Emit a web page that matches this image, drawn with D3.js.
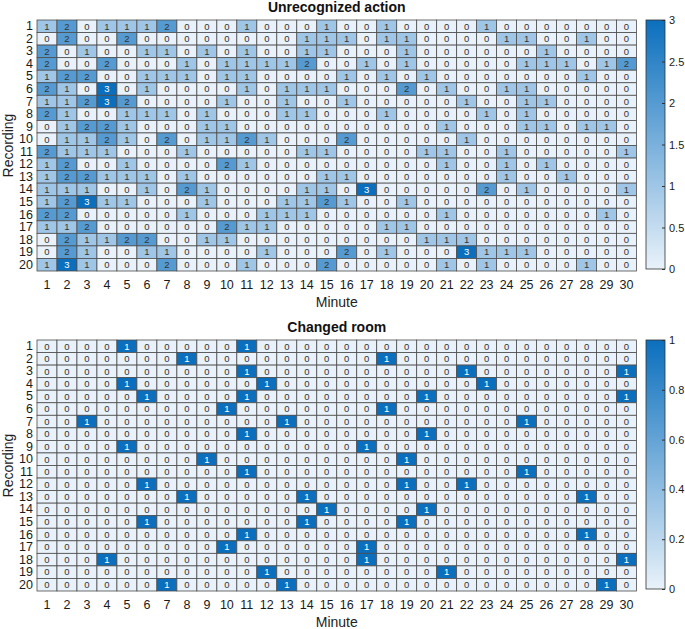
<!DOCTYPE html>
<html>
<head>
<meta charset="utf-8">
<script src="https://cdn.jsdelivr.net/npm/d3@7/dist/d3.min.js"></script>
<style>
body{margin:0;background:#fff;}
svg{font-family:"Liberation Sans",Arial,sans-serif;}
</style>
</head>
<body>
<svg id="chart" width="685" height="629"></svg>
<script>
const minutes = d3.range(1, 31);
const recordings = d3.range(1, 21);

const unrecognized = [
[1,2,0,1,1,1,2,0,0,0,1,0,0,0,1,0,0,1,0,0,0,0,1,0,0,0,0,0,0,0],
[0,2,0,0,2,0,0,0,0,0,0,0,0,1,1,1,0,1,1,0,0,0,0,1,1,0,0,1,0,0],
[2,0,1,0,0,1,1,0,1,0,1,0,0,1,1,0,0,0,1,0,0,0,0,0,0,1,0,0,0,0],
[2,0,0,2,0,0,0,1,0,1,1,1,1,2,0,0,1,0,1,0,0,0,0,0,1,1,1,0,1,2],
[1,2,2,0,0,1,1,1,0,1,1,0,0,0,0,1,0,1,0,1,0,0,0,0,0,0,0,1,0,0],
[2,1,0,3,0,1,0,0,0,0,1,0,1,1,1,0,0,0,2,0,1,0,0,1,1,0,0,0,0,0],
[1,1,2,3,2,0,0,0,0,1,0,0,1,0,0,1,0,0,0,0,0,1,0,0,1,1,0,0,0,0],
[2,1,0,0,1,1,1,0,1,0,0,0,1,1,0,0,0,1,0,0,0,0,1,0,1,0,0,0,0,0],
[0,1,2,2,1,0,0,0,1,1,0,0,0,0,0,0,0,0,0,0,1,0,0,0,1,1,0,1,1,0],
[0,1,1,2,1,0,2,0,1,1,2,1,0,0,0,2,0,0,0,0,0,1,0,0,0,0,0,0,0,0],
[2,1,1,1,0,0,0,1,0,0,0,0,0,1,1,0,0,0,0,1,1,0,0,1,0,0,0,0,0,1],
[1,2,0,0,1,0,0,0,0,2,1,0,0,0,0,0,0,0,0,0,1,0,0,1,0,1,0,0,0,0],
[1,2,2,1,1,1,0,1,0,0,0,0,0,0,1,1,0,0,0,0,0,0,0,1,0,0,1,0,0,0],
[1,1,1,0,0,1,0,2,1,0,0,0,0,1,1,0,3,0,0,0,0,0,2,0,1,0,0,0,0,1],
[1,2,3,1,1,0,0,0,1,0,0,0,1,1,2,1,0,0,1,0,0,0,0,0,0,0,0,0,0,0],
[2,2,0,0,0,0,0,1,0,0,0,1,1,1,0,0,0,0,0,0,1,0,0,0,0,0,0,0,1,0],
[1,1,2,0,0,0,0,0,0,2,1,1,0,0,0,0,0,1,1,0,0,0,0,0,0,0,0,0,0,0],
[0,2,1,1,2,2,0,0,1,1,0,0,0,0,0,0,0,0,0,1,1,1,0,0,0,0,0,0,0,0],
[0,2,1,0,0,1,1,0,0,0,0,1,0,0,0,2,0,1,0,0,0,3,1,1,1,0,0,0,0,0],
[1,3,1,0,0,0,2,0,0,0,1,0,0,0,2,0,0,0,0,0,1,0,1,0,0,0,0,1,0,0]
];

const changedRoom = [
[0,0,0,0,1,0,0,0,0,0,1,0,0,0,0,0,0,0,0,0,0,0,0,0,0,0,0,0,0,0],
[0,0,0,0,0,0,0,1,0,0,0,0,0,0,0,0,0,1,0,0,0,0,0,0,0,0,0,0,0,0],
[0,0,0,0,0,0,0,0,0,0,1,0,0,0,0,0,0,0,0,0,0,1,0,0,0,0,0,0,0,1],
[0,0,0,0,1,0,0,0,0,0,0,1,0,0,0,0,0,0,0,0,0,0,1,0,0,0,0,0,0,0],
[0,0,0,0,0,1,0,0,0,0,1,0,0,0,0,0,0,0,0,1,0,0,0,0,0,0,0,0,0,1],
[0,0,0,0,0,0,0,0,0,1,0,0,0,0,0,0,0,1,0,0,0,0,0,0,0,0,0,0,0,0],
[0,0,1,0,0,0,0,0,0,0,0,0,1,0,0,0,0,0,0,0,0,0,0,0,1,0,0,0,0,0],
[0,0,0,0,0,0,0,0,0,0,1,0,0,0,0,0,0,0,0,1,0,0,0,0,0,0,0,0,0,0],
[0,0,0,0,1,0,0,0,0,0,0,0,0,0,0,0,1,0,0,0,0,0,0,0,0,0,0,0,0,0],
[0,0,0,0,0,0,0,0,1,0,0,0,0,0,0,0,0,0,1,0,0,0,0,0,0,0,0,0,0,0],
[0,0,0,0,0,0,0,0,0,0,1,0,0,0,0,0,0,0,0,0,0,0,0,0,1,0,0,0,0,0],
[0,0,0,0,0,1,0,0,0,0,0,0,0,0,0,0,0,0,1,0,0,1,0,0,0,0,0,0,0,0],
[0,0,0,0,0,0,0,1,0,0,0,0,0,1,0,0,0,0,0,0,0,0,0,0,0,0,0,1,0,0],
[0,0,0,0,0,0,0,0,0,0,0,0,0,0,1,0,0,0,0,1,0,0,0,0,0,0,0,0,0,0],
[0,0,0,0,0,1,0,0,0,0,0,0,0,1,0,0,0,0,1,0,0,0,0,0,0,0,0,0,0,0],
[0,0,0,0,0,0,0,0,0,0,1,0,0,0,0,0,0,0,0,0,0,0,0,0,0,0,0,1,0,0],
[0,0,0,0,0,0,0,0,0,1,0,0,0,0,0,0,1,0,0,0,0,0,0,0,0,0,0,0,0,0],
[0,0,0,1,0,0,0,0,0,0,0,0,0,0,0,0,1,0,0,0,0,0,0,0,0,0,0,0,0,1],
[0,0,0,0,0,0,0,0,0,0,0,1,0,0,0,0,0,0,0,0,1,0,0,0,0,0,0,0,0,0],
[0,0,0,0,0,0,1,0,0,0,0,0,1,0,0,0,0,0,0,0,0,0,0,0,0,0,0,0,1,0]
];

const panels = [
  {title: "Unrecognized action", data: unrecognized, max: 3, ticks: [0,0.5,1,1.5,2,2.5,3], top: 20, bottom: 271},
  {title: "Changed room", data: changedRoom, max: 1, ticks: [0,0.2,0.4,0.6,0.8,1], top: 340, bottom: 591}
];

const svg = d3.select("#chart");
const left = 37, right = 636.5;
const lowC = "#e9f2fa", highC = "#0b6fbd";
const defs = svg.append("defs");
const grad = defs.append("linearGradient").attr("id","cbgrad").attr("x1",0).attr("y1",1).attr("x2",0).attr("y2",0);
grad.append("stop").attr("offset","0%").attr("stop-color",lowC);
grad.append("stop").attr("offset","100%").attr("stop-color",highC);

panels.forEach((p, pi) => {
  const g = svg.append("g");
  const x = d3.scaleBand().domain(minutes).range([left, right]).padding(0);
  const y = d3.scaleBand().domain(recordings).range([p.top, p.bottom]).padding(0);
  const color = d3.scaleLinear().domain([0, p.max]).range([lowC, highC]).interpolate(d3.interpolateRgb);

  const cells = [];
  p.data.forEach((row, ri) => row.forEach((v, ci) => cells.push({r: recordings[ri], c: minutes[ci], v})));

  g.selectAll("rect.cell").data(cells).join("rect")
    .attr("class","cell")
    .attr("x", d => x(d.c)).attr("y", d => y(d.r))
    .attr("width", x.bandwidth()).attr("height", y.bandwidth())
    .attr("fill", d => color(d.v))
    .attr("stroke", "#4d4d4d").attr("stroke-width", 0.8);

  g.selectAll("text.val").data(cells).join("text")
    .attr("class","val")
    .attr("x", d => x(d.c) + x.bandwidth()/2)
    .attr("y", d => y(d.r) + y.bandwidth()/2 + 3.3)
    .attr("text-anchor","middle")
    .attr("font-size", 9.5)
    .attr("fill", d => d.v / p.max > 0.75 ? "#ffffff" : "#333333")
    .text(d => d.v);

  // axes
  const xa = g.append("g").attr("transform", `translate(0,${p.bottom + 4})`)
    .call(d3.axisBottom(x).tickSize(0).tickPadding(5));
  xa.select(".domain").remove();
  xa.selectAll("text").attr("font-size", 12.5).attr("fill","#1a1a1a").attr("font-family","Liberation Sans, Arial, sans-serif");

  const ya = g.append("g").attr("transform", `translate(${left - 3},0)`)
    .call(d3.axisLeft(y).tickSize(0).tickPadding(1));
  ya.select(".domain").remove();
  ya.selectAll("text").attr("font-size", 12.5).attr("fill","#1a1a1a").attr("font-family","Liberation Sans, Arial, sans-serif");

  g.append("text").attr("x", (left+right)/2).attr("y", p.top - 8)
    .attr("text-anchor","middle").attr("font-weight","bold").attr("font-size", 14).attr("fill","#111")
    .text(p.title);
  g.append("text").attr("x", (left+right)/2).attr("y", p.bottom + 36)
    .attr("text-anchor","middle").attr("font-size", 14).attr("fill","#222")
    .text("Minute");
  g.append("text").attr("transform", `translate(13,${(p.top+p.bottom)/2}) rotate(-90)`)
    .attr("text-anchor","middle").attr("font-size", 14).attr("fill","#222")
    .text("Recording");

  // colorbar
  const cbx = 646, cbw = 19;
  const cbTop = p.top, cbBot = p.bottom - 2;
  g.append("rect").attr("x", cbx).attr("y", cbTop).attr("width", cbw).attr("height", cbBot - cbTop)
    .attr("fill","url(#cbgrad)").attr("stroke","#333").attr("stroke-width",0.8);
  const cs = d3.scaleLinear().domain([0, p.max]).range([cbBot, cbTop]);
  const ca = g.append("g").attr("transform", `translate(${cbx + cbw},0)`)
    .call(d3.axisRight(cs).tickValues(p.ticks).tickSize(-3).tickPadding(4).tickFormat(d3.format("~g")));
  ca.select(".domain").remove();
  ca.selectAll("line").attr("stroke","#333");
  ca.selectAll("text").attr("font-size", 11).attr("fill","#1a1a1a").attr("font-family","Liberation Sans, Arial, sans-serif");
});
</script>
</body>
</html>
